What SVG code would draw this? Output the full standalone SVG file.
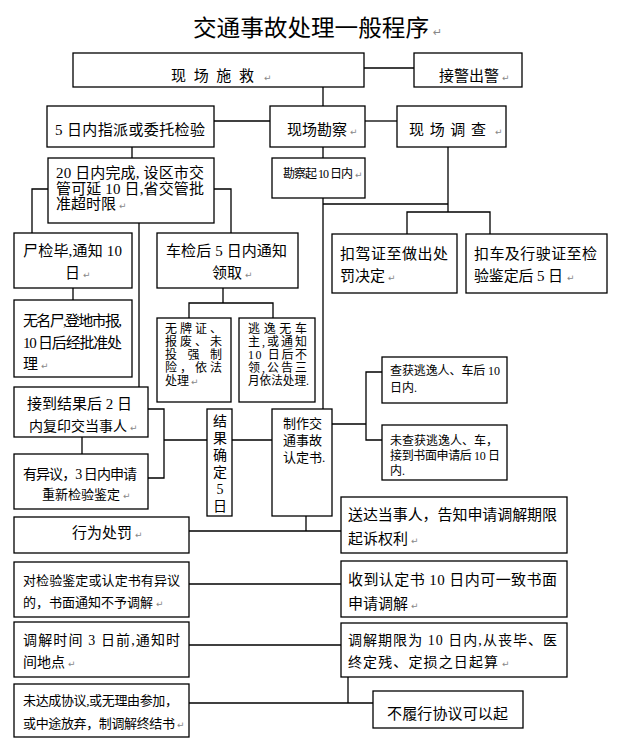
<svg xmlns="http://www.w3.org/2000/svg" width="619" height="740" viewBox="0 0 619 740">
<style>
.b{fill:#fff;stroke:#000;stroke-width:1.3}
.c line,.c polyline{stroke:#000;stroke-width:1.3;fill:none}
.t{font-family:"Liberation Serif","Noto Sans CJK SC",serif;font-size:15px;fill:#000}
.m{font-size:14px}
.s{font-size:13px}
.v{font-size:12px}
.x{font-size:12px}
.p{font-family:"DejaVu Sans",sans-serif;font-size:9px;fill:#888}
</style>
<rect width="619" height="740" fill="#fff"/>
<text class="t" y="36" style="font-size:23px"><tspan x="193" textLength="236" lengthAdjust="spacingAndGlyphs">交通事故处理一般程序</tspan><tspan x="433" class="p" style="font-size:11px">↵</tspan></text>

<g class="c" id="connectors">
<line x1="364" y1="68" x2="414" y2="68"/>
<line x1="323" y1="87" x2="323" y2="106"/>
<line x1="214" y1="121" x2="270" y2="121"/>
<line x1="365" y1="121" x2="397" y2="121"/>
<line x1="132" y1="147" x2="132" y2="158"/>
<line x1="323" y1="147" x2="323" y2="158"/>
<line x1="448" y1="147" x2="448" y2="212"/>
<line x1="323" y1="204" x2="448" y2="204"/>
<polyline points="407,234 407,212 490,212 490,234"/>
<line x1="323" y1="198" x2="323" y2="409"/>
<polyline points="48,189 32,189 32,233"/>
<polyline points="214,189 231,189 231,233"/>
<line x1="139" y1="223" x2="139" y2="387"/>
<line x1="73" y1="288" x2="73" y2="300"/>
<line x1="223" y1="288" x2="223" y2="303"/>
<polyline points="189,318 189,303 273,303 273,318"/>
<line x1="82" y1="437" x2="82" y2="454"/>
<polyline points="148,409 164,409 164,478 148,478"/>
<line x1="164" y1="440" x2="207" y2="440"/>
<line x1="232" y1="440" x2="272" y2="440"/>
<line x1="332" y1="424" x2="366" y2="424"/>
<polyline points="382,372 366,372 366,440 382,440"/>
<line x1="306" y1="516" x2="306" y2="531"/>
<line x1="189" y1="531" x2="341" y2="531"/>
<line x1="189" y1="584" x2="341" y2="584"/>
<line x1="189" y1="645" x2="341" y2="645"/>
<line x1="189" y1="703" x2="373" y2="703"/>
<line x1="348" y1="677" x2="348" y2="703"/>
</g>

<g id="n1"><rect class="b" x="73" y="53" width="291" height="34"/>
<text class="t" y="81"><tspan x="171" textLength="83" lengthAdjust="spacing">现 场 施 救</tspan><tspan x="264" class="p">↵</tspan></text></g>
<g id="n2"><rect class="b" x="414" y="53" width="108" height="34"/>
<text class="t" y="81"><tspan x="439">接警出警</tspan><tspan x="502" class="p">↵</tspan></text></g>
<g id="n3"><rect class="b" x="47" y="106" width="167" height="41"/>
<text class="t" x="55" y="134.5" textLength="150" lengthAdjust="spacing">5 日内指派或委托检验</text></g>
<g id="n4"><rect class="b" x="270" y="106" width="95" height="41"/>
<text class="t" y="134.5"><tspan x="287">现场勘察</tspan><tspan x="350" class="p">↵</tspan></text></g>
<g id="n5"><rect class="b" x="397" y="106" width="109" height="41"/>
<text class="t" y="134.5"><tspan x="409" textLength="77" lengthAdjust="spacing">现 场 调 查</tspan><tspan x="495" class="p">↵</tspan></text></g>
<g id="n6"><rect class="b" x="48" y="158" width="166" height="65"/>
<text class="t" x="56" y="177.5" textLength="148" lengthAdjust="spacing">20 日内完成, 设区市交</text>
<text class="t" x="56" y="193.5" textLength="148" lengthAdjust="spacing">管可延 10 日,省交管批</text>
<text class="t" y="208.5"><tspan x="56">准超时限</tspan><tspan x="119" class="p">↵</tspan></text></g>
<g id="n7"><rect class="b" x="272" y="158" width="93" height="40"/>
<text class="t x" y="177.5"><tspan x="283" textLength="70" lengthAdjust="spacing">勘察起 10 日内</tspan><tspan x="355" class="p">↵</tspan></text></g>
<g id="n8"><rect class="b" x="14" y="233" width="118" height="55"/>
<text class="t" x="23" y="255.5" textLength="99" lengthAdjust="spacing">尸检毕,通知 10</text>
<text class="t" y="277.5"><tspan x="65">日</tspan><tspan x="83" class="p">↵</tspan></text></g>
<g id="n9"><rect class="b" x="157" y="233" width="141" height="55"/>
<text class="t" x="166" y="255.5" textLength="121" lengthAdjust="spacing">车检后 5 日内通知</text>
<text class="t" y="277.5"><tspan x="212">领取</tspan><tspan x="245" class="p">↵</tspan></text></g>
<g id="n10"><rect class="b" x="332" y="234" width="125" height="59"/>
<text class="t" x="340" y="258.5" textLength="108" lengthAdjust="spacing">扣驾证至做出处</text>
<text class="t" y="280.5"><tspan x="340">罚决定</tspan><tspan x="388" class="p">↵</tspan></text></g>
<g id="n11"><rect class="b" x="466" y="234" width="141" height="59"/>
<text class="t" x="474" y="258.5" textLength="123" lengthAdjust="spacing">扣车及行驶证至检</text>
<text class="t" y="280.5"><tspan x="474" textLength="89" lengthAdjust="spacing">验鉴定后 5 日</tspan><tspan x="567" class="p">↵</tspan></text></g>
<g id="n12"><rect class="b" x="14" y="300" width="118" height="77"/>
<text class="t" x="23" y="325.5" textLength="99" lengthAdjust="spacing">无名尸,登地市报,</text>
<text class="t" x="23" y="347.5" textLength="99" lengthAdjust="spacing">10 日后经批准处</text>
<text class="t" y="368.5"><tspan x="23">理</tspan><tspan x="41" class="p">↵</tspan></text></g>
<g id="n13"><rect class="b" x="157" y="318" width="74" height="84"/>
<text class="t v" x="165" y="332.5" textLength="57" lengthAdjust="spacing">无牌证、</text>
<text class="t v" x="165" y="345.5" textLength="57" lengthAdjust="spacing">报废、未</text>
<text class="t v" x="165" y="358.5" textLength="57" lengthAdjust="spacing">投 强 制</text>
<text class="t v" x="165" y="371.5" textLength="57" lengthAdjust="spacing">险，依法</text>
<text class="t v" y="384.5"><tspan x="165">处理</tspan><tspan x="191" class="p">↵</tspan></text></g>
<g id="n14"><rect class="b" x="239" y="318" width="76" height="84"/>
<text class="t v" x="248" y="332.5" textLength="59" lengthAdjust="spacing">逃 逸 无 车</text>
<text class="t v" x="248" y="345.5" textLength="59" lengthAdjust="spacing">主,或通知</text>
<text class="t v" x="248" y="358.5" textLength="59" lengthAdjust="spacing">10 日后不</text>
<text class="t v" x="248" y="371.5" textLength="59" lengthAdjust="spacing">领,公告三</text>
<text class="t v" x="248" y="384.5" textLength="61" lengthAdjust="spacingAndGlyphs">月依法处理.</text></g>
<g id="n15"><rect class="b" x="382" y="357" width="125" height="46"/>
<text class="t x" x="390" y="374.5" textLength="110" lengthAdjust="spacing">查获逃逸人、车后 10</text>
<text class="t x" x="390" y="391.5">日内.</text></g>
<g id="n16"><rect class="b" x="14" y="387" width="134" height="50"/>
<text class="t" x="27" y="408.5" textLength="105" lengthAdjust="spacing">接到结果后 2 日</text>
<text class="t m" y="430.5"><tspan x="29">内复印交当事人</tspan><tspan x="130" class="p">↵</tspan></text></g>
<g id="n17"><rect class="b" x="207" y="409" width="25" height="107"/>
<text class="t m" text-anchor="middle"><tspan x="220" y="426">结</tspan><tspan x="220" y="443">果</tspan><tspan x="220" y="460">确</tspan><tspan x="220" y="477">定</tspan><tspan x="220" y="494">5</tspan><tspan x="220" y="511">日</tspan></text></g>
<g id="n18"><rect class="b" x="272" y="409" width="60" height="107"/>
<text class="t s" x="283" y="428">制作交</text>
<text class="t s" x="283" y="445">通事故</text>
<text class="t s" x="283" y="462">认定书.</text></g>
<g id="n19"><rect class="b" x="382" y="425" width="125" height="55"/>
<text class="t x" x="390" y="444.5" textLength="108" lengthAdjust="spacing">未查获逃逸人、车，</text>
<text class="t x" x="390" y="459.5" textLength="110" lengthAdjust="spacing">接到书面申请后 10 日</text>
<text class="t x" x="390" y="474.5">内.</text></g>
<g id="n20"><rect class="b" x="14" y="454" width="134" height="55"/>
<text class="t m" x="23" y="478.5" textLength="114" lengthAdjust="spacing">有异议，3 日内申请</text>
<text class="t s" y="498.5"><tspan x="42">重新检验鉴定</tspan><tspan x="123" class="p">↵</tspan></text></g>
<g id="n21"><rect class="b" x="341" y="497" width="226" height="56"/>
<text class="t" x="348" y="519.5" textLength="209" lengthAdjust="spacing">送达当事人，告知申请调解期限</text>
<text class="t" y="543.5"><tspan x="348">起诉权利</tspan><tspan x="411" class="p">↵</tspan></text></g>
<g id="n22"><rect class="b" x="14" y="517" width="175" height="36"/>
<text class="t" y="537.5"><tspan x="72">行为处罚</tspan><tspan x="135" class="p">↵</tspan></text></g>
<g id="n23"><rect class="b" x="14" y="562" width="175" height="55"/>
<text class="t s" x="23" y="585" textLength="157" lengthAdjust="spacing">对检验鉴定或认定书有异议</text>
<text class="t s" y="607"><tspan x="23">的，书面通知不予调解</tspan><tspan x="156" class="p">↵</tspan></text></g>
<g id="n24"><rect class="b" x="341" y="561" width="226" height="56"/>
<text class="t" x="348" y="584.5" textLength="209" lengthAdjust="spacing">收到认定书 10 日内可一致书面</text>
<text class="t" y="608.5"><tspan x="348">申请调解</tspan><tspan x="411" class="p">↵</tspan></text></g>
<g id="n25"><rect class="b" x="14" y="622" width="175" height="55"/>
<text class="t m" x="23" y="645" textLength="157" lengthAdjust="spacing">调解时间 3 日前,通知时</text>
<text class="t m" y="667"><tspan x="23">间地点</tspan><tspan x="68" class="p">↵</tspan></text></g>
<g id="n26"><rect class="b" x="341" y="623" width="226" height="54"/>
<text class="t m" x="348" y="645" textLength="209" lengthAdjust="spacing">调解期限为 10 日内,从丧毕、医</text>
<text class="t m" y="667"><tspan x="348" textLength="150" lengthAdjust="spacing">终定残、定损之日起算</tspan><tspan x="502" class="p">↵</tspan></text></g>
<g id="n27"><rect class="b" x="14" y="684" width="175" height="53"/>
<text class="t s" x="23" y="705" textLength="155" lengthAdjust="spacing">未达成协议,或无理由参加，</text>
<text class="t s" y="728"><tspan x="23" textLength="152" lengthAdjust="spacing">或中途放弃，制调解终结书</tspan><tspan x="177" class="p">↵</tspan></text></g>
<g id="n28"><rect class="b" x="373" y="691" width="150" height="37"/>
<text class="t" x="387" y="718.5" textLength="121" lengthAdjust="spacing">不履行协议可以起</text></g>
</svg>
